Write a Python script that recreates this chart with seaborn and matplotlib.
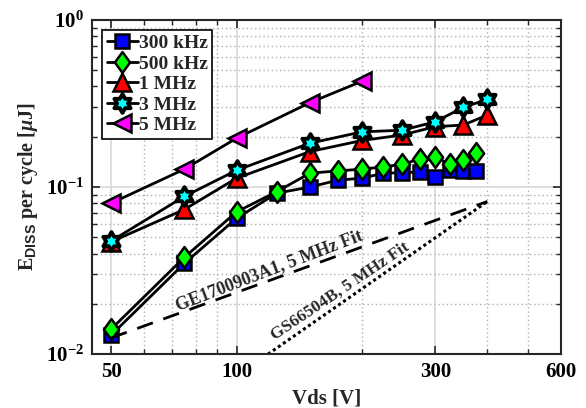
import numpy as np
import pandas as pd
import matplotlib
matplotlib.use("Agg")
import matplotlib.pyplot as plt
from matplotlib.path import Path
import seaborn as sns
from matplotlib.ticker import FixedLocator, NullFormatter, LogFormatterMathtext, LogLocator

# Switching energy per cycle vs drain-source voltage
vds_low = [50, 75, 100, 125, 150, 175, 200, 225, 250, 275, 300, 325, 350, 375]
e_300k = [0.013, 0.035, 0.065, 0.092, 0.100, 0.110, 0.113, 0.121, 0.122, 0.123, 0.115, 0.126, 0.124, 0.124]
e_500k = [0.0141, 0.038, 0.071, 0.094, 0.121, 0.125, 0.128, 0.132, 0.137, 0.147, 0.151, 0.137, 0.145, 0.159]

vds_mid = [50, 75, 100, 150, 200, 250, 300, 350, 400]
e_1M = [0.047, 0.0735, 0.113, 0.163, 0.190, 0.205, 0.230, 0.235, 0.270]
e_3M = [0.0475, 0.088, 0.126, 0.183, 0.214, 0.219, 0.246, 0.300, 0.335]

vds_high = [50, 75, 100, 150, 200]
e_5M = [0.080, 0.128, 0.196, 0.320, 0.430]

# Fit lines (end points)
fit_ge_v = [50, 400]
fit_ge_e = [0.0125, 0.082]
fit_gs_v = [119, 400]
fit_gs_e = [0.010, 0.082]

series_names = ["300 kHz", "500 kHz", "1 MHz", "3 MHz", "5 MHz"]
series_v = [vds_low, vds_low, vds_mid, vds_mid, vds_high]
series_e = [e_300k, e_500k, e_1M, e_3M, e_5M]
face_colors = ["#0000ff", "#00ff00", "#ff0000", "#00ffff", "#ff00ff"]

# Narrow diamond and six-pointed star (hexagram) marker shapes
diamond = Path([(0, 1), (0.73, 0), (0, -1), (-0.73, 0), (0, 1)],
               [Path.MOVETO, Path.LINETO, Path.LINETO, Path.LINETO, Path.CLOSEPOLY])
hex_pts = []
for k in range(12):
    ang = np.pi / 2 + k * np.pi / 6
    r = 1.0 if k % 2 == 0 else 1.0 / np.sqrt(3)
    hex_pts.append((r * np.cos(ang), r * np.sin(ang)))
hex_pts.append(hex_pts[0])
hexagram = Path(hex_pts, [Path.MOVETO] + [Path.LINETO] * 11 + [Path.CLOSEPOLY])

markers = ["s", diamond, "^", hexagram, "<"]
marker_sizes = [10.5, 15, 13, 13.5, 13]
edge_widths = [1.8, 1.8, 1.8, 2.8, 1.8]

xticks = [50, 100, 300, 600]

sns.set_style("ticks")
plt.rcParams["font.family"] = ["Liberation Serif", "DejaVu Serif"]
plt.rcParams["font.weight"] = "bold"
plt.rcParams["mathtext.fontset"] = "custom"
plt.rcParams["mathtext.rm"] = "Liberation Serif:bold"
plt.rcParams["mathtext.bf"] = "Liberation Serif:bold"
plt.rcParams["mathtext.it"] = "Liberation Serif:italic:bold"
plt.rcParams["mathtext.sf"] = "Liberation Sans:bold"

frames = []
for name, v, e in zip(series_names, series_v, series_e):
    frames.append(pd.DataFrame({"Vds": v, "E": e, "series": name}))
df = pd.concat(frames, ignore_index=True)

fig = plt.figure(figsize=(5.86, 4.08), dpi=100)
ax = fig.add_axes([0.157, 0.132, 0.800, 0.819])

for name, fc, mk, ms, ew in zip(series_names, face_colors, markers, marker_sizes, edge_widths):
    sub = df[df["series"] == name]
    sns.lineplot(data=sub, x="Vds", y="E", ax=ax, color="black", linewidth=2,
                 marker=mk, markersize=ms, markerfacecolor=fc,
                 markeredgecolor="black", markeredgewidth=ew,
                 label=name, estimator=None, sort=False)

ax.plot(fit_ge_v, fit_ge_e, color="black", linestyle=(0, (6, 4)), linewidth=2)
ax.plot(fit_gs_v, fit_gs_e, color="black", linestyle=(0, (1, 1)), linewidth=2.2)

ax.text(120, 0.0318, "GE1700903A1, 5 MHz Fit", rotation=21, ha="center", va="center",
        fontsize=13, fontweight="bold", rotation_mode="anchor")
ax.text(177, 0.0238, "GS66504B, 5 MHz Fit", rotation=34, ha="center", va="center",
        fontsize=12.5, fontweight="bold", rotation_mode="anchor")

ax.set_xscale("log")
ax.set_yscale("log")
ax.set_xlim(45, 600)
ax.set_ylim(0.01, 1)

ax.xaxis.set_major_locator(FixedLocator(xticks))
ax.set_xticklabels([str(t) for t in xticks])
ax.xaxis.set_minor_locator(FixedLocator([60, 70, 80, 90, 200, 400, 500]))
ax.xaxis.set_minor_formatter(NullFormatter())
ax.yaxis.set_major_locator(LogLocator(base=10, numticks=5))
ax.yaxis.set_major_formatter(LogFormatterMathtext())
ax.yaxis.set_minor_locator(LogLocator(base=10, subs=np.arange(2, 10), numticks=20))
ax.yaxis.set_minor_formatter(NullFormatter())

ax.grid(True, which="major", color="#d9d9d9", linestyle="-", linewidth=1.2)
ax.grid(True, which="minor", color="#b0b0b0", linestyle=(0, (1, 2)), linewidth=1)
ax.set_axisbelow(True)

ax.tick_params(which="both", direction="in", top=True, right=True, colors="#262626",
               labelcolor="black")
ax.tick_params(which="major", length=6, width=1.2, labelsize=15, pad=6)
ax.tick_params(which="minor", length=3.5, width=1)
for sp in ax.spines.values():
    sp.set_color("#262626")
    sp.set_linewidth(1.5)

ax.set_xlabel("Vds [V]", fontsize=15, fontweight="bold", labelpad=4)
ax.set_ylabel(r"E$_{\mathsf{DISS}}$ per cycle [$\mu$J]", fontsize=14.5, fontweight="bold",
              labelpad=4)

leg = ax.legend(loc="upper left", fontsize=14, frameon=True, fancybox=False,
                edgecolor="black", framealpha=1, borderpad=0.25, labelspacing=0.15,
                handlelength=1.6, handletextpad=0.05, borderaxespad=0.5)
leg.get_frame().set_linewidth(1.2)
for t in leg.get_texts():
    t.set_fontweight("bold")

fig.savefig("out.png", dpi=100)
